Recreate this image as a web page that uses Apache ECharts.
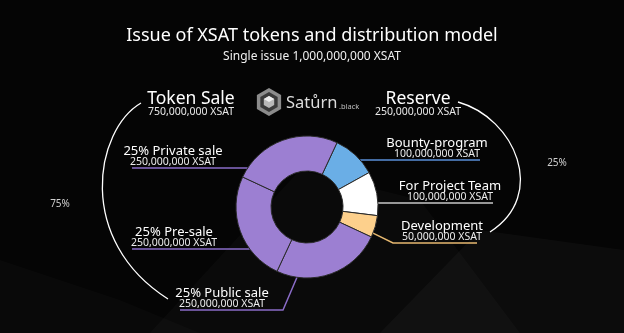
<!DOCTYPE html>
<html><head><meta charset="utf-8">
<script src="https://cdn.jsdelivr.net/npm/echarts@6/dist/echarts.min.js"></script>
<style>html,body{margin:0;padding:0;background:#050505}#c{width:624px;height:333px}</style>
</head><body><div id="c"></div><script>
// ---- data ----
const titleText = 'Issue of XSAT tokens and distribution model';
const subtitleText = 'Single issue 1,000,000,000 XSAT';
const categories = ['Bounty-program', 'For Project Team', 'Development', '25% Public sale', '25% Pre-sale', '25% Private sale'];
const amounts = [100000000, 100000000, 50000000, 250000000, 250000000, 250000000];
const groupNames = ['Token Sale', 'Reserve'];
const groupAmounts = [750000000, 250000000];
const groupShares = ['75%', '25%'];
const unit = 'XSAT';

// ---- styles / layout ----
const sliceColors = ['#6aaee6', '#ffffff', '#fdd08c', '#9c7fd2', '#9c7fd2', '#9c7fd2'];
const lineColors = ['#5a8fd8', '#c8c8c8', '#e6b870', '#8a6cc8', '#8a6cc8', '#8a6cc8'];
const FONT = 'Noto Sans';
const cx = 307, cy = 207, R = 71, r = 36;
const lay = [
  {x: 437, lineY: 160, end: 480, side: 1},
  {x: 450, lineY: 203, end: 493, side: 1},
  {x: 442, lineY: 243, end: 477, side: 1, startX: 373, bend: [393, 243]},
  {x: 222, lineY: 310, end: 180, side: -1, startX: 297, bend: [283, 310]},
  {x: 174, lineY: 249, end: 132, side: -1},
  {x: 173, lineY: 168, end: 132, side: -1}
];
const fmt = v => v.toLocaleString('en-US') + ' ' + unit;

const chart = echarts.init(document.getElementById('c'), null, {renderer: 'canvas'});

function hex(x, y, rad) {
  const pts = [];
  for (let i = 0; i < 6; i++) {
    const a = Math.PI / 180 * (60 * i - 90);
    pts.push([x + rad * Math.cos(a), y + rad * Math.sin(a)]);
  }
  return pts;
}

const graphics = [
  // background shapes
  {type: 'polygon', silent: true, z: -10, shape: {points: [[150, 333], [300, 170], [420, 200], [520, 333]]}, style: {fill: 'rgba(255,255,255,0.025)'}},
  {type: 'polygon', silent: true, z: -10, shape: {points: [[380, 333], [480, 230], [624, 250], [624, 333]]}, style: {fill: 'rgba(255,255,255,0.03)'}},
  {type: 'polygon', silent: true, z: -10, shape: {points: [[0, 333], [0, 260], [120, 300], [200, 333]]}, style: {fill: 'rgba(255,255,255,0.02)'}},
  // brackets
  {type: 'bezierCurve', silent: true, shape: {x1: 141, y1: 103, cpx1: 95, cpy1: 130, cpx2: 75, cpy2: 240, x2: 168, y2: 299}, style: {stroke: '#ffffff', lineWidth: 1.3, fill: null}},
  {type: 'bezierCurve', silent: true, shape: {x1: 458, y1: 102, cpx1: 515, cpy1: 118, cpx2: 548, cpy2: 195, x2: 490, y2: 232}, style: {stroke: '#ffffff', lineWidth: 1.3, fill: null}},
  // group headings
  {type: 'text', silent: true, style: {text: groupNames[0], x: 191, y: 99, align: 'center', verticalAlign: 'middle', fill: '#fff', font: '17.5px "' + FONT + '"'}},
  {type: 'text', silent: true, style: {text: fmt(groupAmounts[0]), x: 191, y: 112, align: 'center', verticalAlign: 'middle', fill: '#e8e8e8', font: '10.5px "' + FONT + '"'}},
  {type: 'text', silent: true, style: {text: groupNames[1], x: 418, y: 99, align: 'center', verticalAlign: 'middle', fill: '#fff', font: '17.5px "' + FONT + '"'}},
  {type: 'text', silent: true, style: {text: fmt(groupAmounts[1]), x: 418, y: 112, align: 'center', verticalAlign: 'middle', fill: '#e8e8e8', font: '10.5px "' + FONT + '"'}},
  {type: 'text', silent: true, style: {text: groupShares[0], x: 60, y: 204, align: 'center', verticalAlign: 'middle', fill: '#cfcfcf', font: '10px "' + FONT + '"'}},
  {type: 'text', silent: true, style: {text: groupShares[1], x: 557, y: 163, align: 'center', verticalAlign: 'middle', fill: '#cfcfcf', font: '10px "' + FONT + '"'}},
  // logo
  {type: 'polygon', silent: true, shape: {points: hex(269, 102, 14)}, style: {fill: '#8c8c8c'}},
  {type: 'polygon', silent: true, shape: {points: hex(269, 102, 10)}, style: {fill: '#3a3a3a'}},
  {type: 'polygon', silent: true, shape: {points: hex(269, 102, 6)}, style: {fill: '#b8b8b8'}},
  {type: 'polygon', silent: true, shape: {points: [[269, 96], [274.2, 99], [269, 102], [263.8, 99]]}, style: {fill: '#eeeeee'}},
  {type: 'text', silent: true, style: {text: 'Satůrn', x: 286, y: 103, align: 'left', verticalAlign: 'middle', fill: '#dcdcdc', font: '16.5px "' + FONT + '"'}},
  {type: 'text', silent: true, style: {text: '.black', x: 339, y: 107, align: 'left', verticalAlign: 'middle', fill: '#bdbdbd', font: '7.5px "' + FONT + '"'}}
];

const option = {
  backgroundColor: '#050505',
  animation: false,
  title: {
    text: titleText, subtext: subtitleText, left: 'center', top: 22, itemGap: 6,
    textStyle: {color: '#fff', fontFamily: FONT, fontSize: 18, fontWeight: 'normal'},
    subtextStyle: {color: '#f0f0f0', fontFamily: FONT, fontSize: 12}
  },
  graphic: graphics,
  series: [{
    type: 'pie',
    center: [cx, cy],
    radius: [r, R],
    startAngle: 65,
    clockwise: true,
    avoidLabelOverlap: false,
    data: categories.map((c, i) => ({
      name: c, value: amounts[i],
      itemStyle: {color: sliceColors[i]},
      labelLine: {lineStyle: {color: lineColors[i], width: 1.5}}
    })),
    itemStyle: {borderColor: '#2b2b2b', borderWidth: 1},
    label: {
      show: true,
      formatter: p => '{a|' + p.name + '}\n{b|' + fmt(p.value) + '}',
      rich: {
        a: {color: '#fff', fontFamily: FONT, fontSize: 13, lineHeight: 12},
        b: {color: '#ececec', fontFamily: FONT, fontSize: 10.5, lineHeight: 10}
      }
    },
    labelLine: {show: true, smooth: false, length: 10, length2: 10},
    labelLayout: function (p) {
      const L = lay[p.dataIndex];
      let pts;
      if (L.startX != null) {
        const sy = cy + Math.sqrt(R * R - (L.startX - cx) * (L.startX - cx));
        pts = [[L.startX, sy], L.bend, [L.end, L.lineY]];
      } else {
        const sx = cx + L.side * Math.sqrt(R * R - (L.lineY - cy) * (L.lineY - cy));
        pts = [[sx, L.lineY], [(sx + L.end) / 2, L.lineY], [L.end, L.lineY]];
      }
      return {x: L.x, y: L.lineY - 1, align: 'center', verticalAlign: 'bottom', labelLinePoints: pts};
    }
  }]
};
chart.setOption(option);
</script></body></html>
